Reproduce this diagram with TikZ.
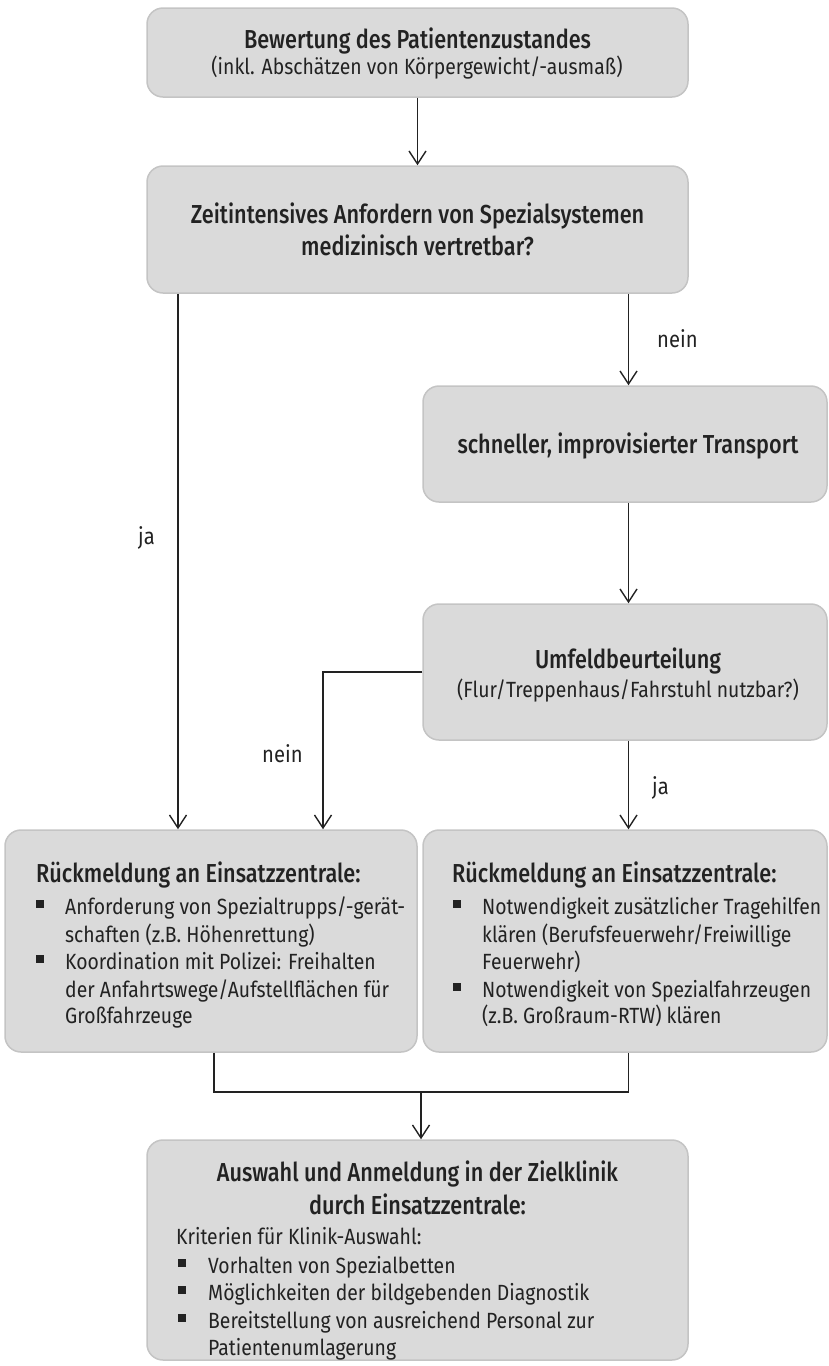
\documentclass[tikz,border=0pt]{standalone}
\usepackage{fontspec}
\setmainfont{Fira Sans}[FakeStretch=0.88]
\newfontfamily\ttlfont{Fira Sans Medium}[FakeStretch=0.834]
\usetikzlibrary{arrows.meta}
\definecolor{boxgray}{HTML}{DADADA}
\definecolor{bordergray}{HTML}{C4C4C4}
\definecolor{txt}{HTML}{222222}
\tikzset{
  box/.style={draw=bordergray, fill=boxgray, rounded corners=16pt, line width=1.5pt, inner sep=0pt},
  body/.style={inner sep=0pt, text=txt, font=\fontsize{22}{27}\selectfont, anchor=base},
  bodyl/.style={body, anchor=base west},
  lab/.style={bodyl, font=\fontsize{23}{27}\selectfont},
  ttl/.style={inner sep=0pt, text=txt, font=\fontsize{26}{30}\ttlfont, anchor=base},
  ttll/.style={ttl, anchor=base west},
  conn/.style={line width=1.4pt, draw=txt},
  arr/.style={conn, -{Straight Barb[length=13pt,width=17pt,line width=1.4pt]}},
  bul/.style={fill=txt}
}
\begin{document}
\begin{tikzpicture}[x=1pt,y=-1pt]
\useasboundingbox (0,0) rectangle (828,1366);
% boxes
\node[box, minimum width=541pt, minimum height=89pt] (b1) at (417.5,52.5) {};
\node[box, minimum width=541pt, minimum height=127pt] (b2) at (417.5,229.5) {};
\node[box, minimum width=404pt, minimum height=116pt] (b3) at (625,444) {};
\node[box, minimum width=404pt, minimum height=136pt] (b4) at (625,672) {};
\node[box, minimum width=412pt, minimum height=222pt] (b5) at (211,941) {};
\node[box, minimum width=404pt, minimum height=222pt] (b6) at (625,941) {};
\node[box, minimum width=541pt, minimum height=220pt] (b7) at (417.5,1250) {};
% box texts
\node[ttl] (t1a) at (417.5,48) {Bewertung des Patientenzustandes};
\node[body] (t1b) at (417,74) {(inkl. Abschätzen von Körpergewicht/-ausmaß)};
\node[ttl] (t2a) at (417.5,223) {Zeitintensives Anfordern von Spezialsystemen};
\node[ttl] (t2b) at (417.5,255) {medizinisch vertretbar?};
\node[ttl] (t3) at (628,453) {schneller, improvisierter Transport};
\node[ttl] (t4a) at (628,668) {Umfeldbeurteilung};
\node[body] (t4b) at (628,697) {(Flur/Treppenhaus/Fahrstuhl nutzbar?)};
% box 5
\node[ttll] (t5) at (36,882) {Rückmeldung an Einsatzzentrale:};
\node[bodyl] (t5a) at (65,914) {Anforderung von Spezialtrupps/-gerät-};
\node[bodyl] (t5b) at (65,942) {schaften (z.B. Höhenrettung)};
\node[bodyl] (t5c) at (65,969) {Koordination mit Polizei: Freihalten};
\node[bodyl] (t5d) at (65,997) {der Anfahrtswege/Aufstellflächen für};
\node[bodyl] (t5e) at (65,1023) {Großfahrzeuge};
\fill[bul] (36,899.5) rectangle (44,907.5);
\fill[bul] (36,954.5) rectangle (44,962.5);
% box 6
\node[ttll] (t6) at (452,882) {Rückmeldung an Einsatzzentrale:};
\node[bodyl] (t6a) at (482,914) {Notwendigkeit zusätzlicher Tragehilfen};
\node[bodyl] (t6b) at (482,942) {klären (Berufsfeuerwehr/Freiwillige};
\node[bodyl] (t6c) at (482,969) {Feuerwehr)};
\node[bodyl] (t6d) at (482,997) {Notwendigkeit von Spezialfahrzeugen};
\node[bodyl] (t6e) at (482,1023) {(z.B. Großraum-RTW) klären};
\fill[bul] (453,899.5) rectangle (461,907.5);
\fill[bul] (453,982.5) rectangle (461,990.5);
% box 7
\node[ttl] (t7a) at (417.5,1181) {Auswahl und Anmeldung in der Zielklinik};
\node[ttl] (t7b) at (417.5,1214) {durch Einsatzzentrale:};
\node[bodyl] (t7c) at (176,1244) {Kriterien für Klinik-Auswahl:};
\node[bodyl] (t7d) at (208,1273) {Vorhalten von Spezialbetten};
\node[bodyl] (t7e) at (208,1300) {Möglichkeiten der bildgebenden Diagnostik};
\node[bodyl] (t7f) at (208,1328) {Bereitstellung von ausreichend Personal zur};
\node[bodyl] (t7g) at (208,1355) {Patientenumlagerung};
\fill[bul] (178,1258.5) rectangle (186,1266.5);
\fill[bul] (178,1285.5) rectangle (186,1293.5);
\fill[bul] (178,1313.5) rectangle (186,1321.5);
% helper coordinates
\coordinate (xja) at (178,0);
\coordinate (xr) at (628.5,0);
\coordinate (xn) at (323,0);
\coordinate (j1) at (214,1092);
\coordinate (j2) at (628.5,1092);
\coordinate (jm) at (421,1092);
% connectors
\draw[arr] (b1.south) -- (b2.north);
\draw[arr] (b2.south -| xja) -- (b5.north -| xja);
\draw[arr] (b2.south -| xr) -- (b3.north -| xr);
\draw[arr] (b3.south -| xr) -- (b4.north -| xr);
\draw[arr] (b4.south -| xr) -- (b6.north -| xr);
\draw[arr] (b4.west) -| (b5.north -| xn);
\draw[conn] (b5.south -| j1) -- (j1) -- (j2) -- (b6.south -| j2);
\draw[arr] (jm) -- (b7.north -| jm);
% labels
\node[lab] (lja1) at (138,544) {ja};
\node[lab] (lnein1) at (657,347) {nein};
\node[lab] (lnein2) at (262,762) {nein};
\node[lab] (lja2) at (652,794) {ja};
\end{tikzpicture}
\end{document}
